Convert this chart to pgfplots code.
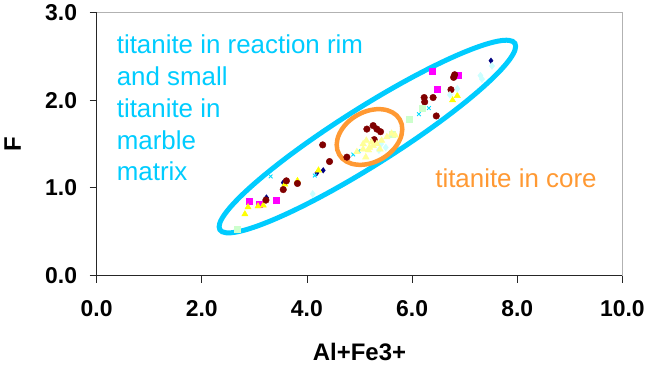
\documentclass[border=0pt]{standalone}
\usepackage{pgfplots}
\pgfplotsset{compat=1.18}
\usepackage{fontspec}
\setmainfont{Liberation Sans}
\definecolor{ccyan}{RGB}{0,204,255}
\definecolor{corange}{RGB}{255,153,51}
\definecolor{cnavy}{RGB}{0,0,128}
\definecolor{cmag}{RGB}{255,0,255}
\definecolor{cyel}{RGB}{255,255,0}
\definecolor{cxcy}{RGB}{0,220,255}
\definecolor{cmaroon}{RGB}{128,0,0}
\definecolor{clcyan}{RGB}{204,255,255}
\definecolor{clgreen}{RGB}{204,255,204}
\definecolor{cpyel}{RGB}{255,255,153}
\newcommand{\tickfont}{\fontsize{23}{27}\selectfont\bfseries}
\newcommand{\labfont}{\fontsize{24}{28}\selectfont\bfseries}
\newcommand{\annfont}{\fontsize{26}{30}\selectfont}
\begin{document}
\begin{tikzpicture}
\begin{axis}[
  at={(0,0)}, anchor=south west,
  scale only axis, width=525.8bp, height=263bp,
  xmin=0, xmax=10, ymin=0, ymax=3,
  xtick={0,2,4,6,8,10}, ytick={0,1,2,3},
  xticklabels={0.0,2.0,4.0,6.0,8.0,10.0},
  yticklabels={0.0,1.0,2.0,3.0},
  axis x line*=bottom, axis y line*=left,
  axis line style={black!85, line width=0.8bp},
  tick align=outside, major tick length=7bp,
  tick style={black!85, line width=0.8bp},
  xticklabel style={font=\tickfont, yshift=-14bp},
  yticklabel style={font=\tickfont, xshift=-9bp},
  xlabel={Al+Fe3+}, ylabel={F},
  xlabel style={font=\labfont, at={(axis description cs:0.5,-0.289)}, anchor=center},
  ylabel style={font=\labfont, at={(axis description cs:-0.1598,0.5)}, anchor=center},
  clip=false,
]
\draw[gray!60, line width=0.8bp] (rel axis cs:0,1) -- (rel axis cs:1,1) -- (rel axis cs:1,0);
% navy diamonds
\addplot[only marks, mark=diamond*, mark size=2.8bp, mark options={draw=cnavy, fill=cnavy}] coordinates {
(7.50,2.45) (4.31,1.20) (4.19,1.17) (3.55,1.06) (3.23,0.89)};
% magenta squares
\addplot[only marks, mark=square*, mark size=3bp, mark options={draw=cmag, fill=cmag}] coordinates {
(6.39,2.33) (6.47,2.12) (6.87,2.28) (2.91,0.85) (3.41,0.86) (3.09,0.81)};
% yellow triangles
\addplot[only marks, mark=triangle*, mark size=3.6bp, mark options={draw=cyel, fill=cyel}] coordinates {
(2.82,0.70) (2.88,0.78) (3.07,0.79) (3.17,0.80) (3.58,1.04) (3.82,1.08) (4.22,1.20) (6.77,2.00) (6.86,2.05)};
% cyan crosses
\addplot[only marks, mark=x, mark size=2.6bp, mark options={draw=cxcy, line width=0.9bp}] coordinates {
(3.31,1.13) (4.15,1.14) (6.13,1.84) (6.32,1.91) (4.88,1.38) (4.98,1.42)};
% maroon circles
\addplot[only marks, mark=*, mark size=3.3bp, mark options={draw=cmaroon, fill=cmaroon}] coordinates {
(6.81,2.29) (6.79,2.26) (6.74,2.12) (6.23,2.03) (6.24,1.98) (6.40,2.03) (6.46,1.82)
(5.14,1.67) (5.26,1.71) (5.33,1.67) (5.40,1.64) (5.28,1.55) (4.30,1.49) (4.43,1.30)
(4.76,1.35) (3.61,1.08) (3.82,1.05) (3.55,0.98) (3.22,0.86)};
% light cyan diamonds
\addplot[only marks, mark=diamond*, mark size=3.5bp, mark options={draw=clcyan, fill=clcyan}] coordinates {
(7.52,2.39) (7.30,2.28) (7.33,2.24) (6.86,2.13) (6.72,2.06) (4.11,0.93) (5.41,1.50) (5.37,1.43) (5.50,1.46)};
% light green squares
\addplot[only marks, mark=square*, mark size=3bp, mark options={draw=clgreen, fill=clgreen}] coordinates {
(2.68,0.525) (5.94,1.78) (6.20,1.91) (5.63,1.61)};
% pale yellow triangles
\addplot[only marks, mark=triangle*, mark size=3.8bp, mark options={draw=cpyel, fill=cpyel}] coordinates {
(4.95,1.41) (5.07,1.50) (5.13,1.54) (5.19,1.46) (5.26,1.48) (5.33,1.50) (5.42,1.54) (5.52,1.58)
(5.61,1.62) (5.68,1.60) (5.12,1.35) (5.17,1.43) (5.39,1.44) (5.07,1.44) (5.23,1.52)};
% ellipses
\draw[ccyan, line width=5bp, rotate around={32.3:(axis cs:5.15,1.585)}] (axis cs:5.15,1.585) ellipse [x radius=174.5bp, y radius=28.5bp];
\draw[corange, line width=4.5bp, rotate around={30:(axis cs:5.19,1.58)}] (axis cs:5.19,1.58) ellipse [x radius=35bp, y radius=25bp];
% annotations
\node[anchor=base west, inner sep=0, font=\annfont, text=ccyan] at (axis cs:0.381,2.532) {titanite in reaction rim};
\node[anchor=base west, inner sep=0, font=\annfont, text=ccyan] at (axis cs:0.381,2.167) {and small};
\node[anchor=base west, inner sep=0, font=\annfont, text=ccyan] at (axis cs:0.381,1.802) {titanite in};
\node[anchor=base west, inner sep=0, font=\annfont, text=ccyan] at (axis cs:0.381,1.437) {marble};
\node[anchor=base west, inner sep=0, font=\annfont, text=ccyan] at (axis cs:0.381,1.084) {matrix};
\node[anchor=base west, inner sep=0, font=\annfont, text=corange] at (axis cs:6.438,1.004) {titanite in core};
\end{axis}
\pgfresetboundingbox
\useasboundingbox (-96.6bp,-92.5bp) rectangle (549.4bp,275.5bp);
\end{tikzpicture}
\end{document}
